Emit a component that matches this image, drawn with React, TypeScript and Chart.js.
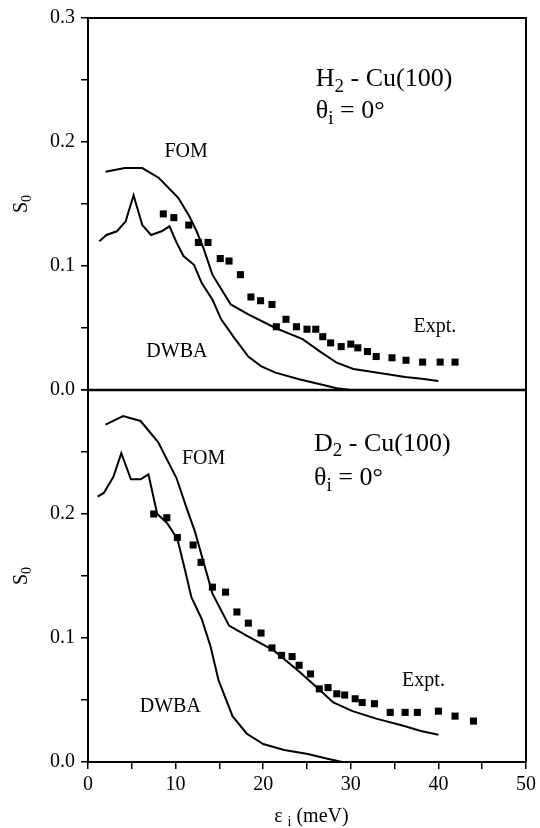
import React, { useEffect, useRef } from "react";
import { Chart, registerables } from "chart.js";

Chart.register(...registerables);

// ---------- data: top panel (H2 - Cu(100)) ----------
const fomTopX = [2.0, 4.2, 6.2, 8.1, 10.3, 11.5, 12.4, 13.2, 14.2, 16.3, 18.3, 21.4, 24.5, 26.5, 28.4, 30.3, 33.1, 36.2, 38.1, 40.0];
const fomTopY = [0.176, 0.179, 0.179, 0.171, 0.155, 0.141, 0.128, 0.114, 0.093, 0.069, 0.061, 0.050, 0.041, 0.031, 0.022, 0.017, 0.014, 0.0105, 0.009, 0.0072];

const dwbaTopX = [1.3, 2.1, 3.3, 4.3, 5.2, 6.2, 7.2, 8.4, 9.3, 10.1, 10.9, 12.1, 13.0, 14.2, 15.2, 16.7, 18.3, 19.8, 21.4, 24.1, 26.5, 28.4, 30.0];
const dwbaTopY = [0.120, 0.125, 0.128, 0.136, 0.157, 0.133, 0.125, 0.128, 0.132, 0.119, 0.108, 0.101, 0.086, 0.073, 0.057, 0.042, 0.027, 0.019, 0.014, 0.0086, 0.0046, 0.0014, 0];

const exptTopX = [8.6, 9.8, 11.5, 12.6, 13.7, 15.1, 16.1, 17.4, 18.6, 19.7, 21.0, 21.5, 22.6, 23.8, 25.0, 26.0, 26.8, 27.7, 28.9, 30.0, 30.8, 31.9, 32.9, 34.7, 36.3, 38.2, 40.2, 41.9];
const exptTopY = [0.142, 0.139, 0.133, 0.119, 0.119, 0.106, 0.104, 0.093, 0.075, 0.072, 0.069, 0.051, 0.057, 0.051, 0.049, 0.049, 0.043, 0.038, 0.035, 0.037, 0.034, 0.031, 0.027, 0.026, 0.024, 0.0225, 0.0225, 0.0225];

// ---------- data: bottom panel (D2 - Cu(100)) ----------
const fomBotX = [2.0, 4.0, 6.0, 8.0, 10.1, 11.2, 12.2, 13.0, 14.2, 16.1, 18.1, 21.2, 24.1, 26.3, 28.0, 30.2, 32.9, 36.1, 38.0, 40.0];
const fomBotY = [0.272, 0.279, 0.275, 0.258, 0.229, 0.206, 0.186, 0.166, 0.136, 0.110, 0.102, 0.090, 0.073, 0.059, 0.048, 0.041, 0.035, 0.029, 0.025, 0.022];

const dwbaBotX = [1.1, 1.8, 2.9, 3.8, 4.9, 6.0, 6.9, 7.9, 9.0, 10.2, 11.0, 11.8, 13.0, 14.0, 14.9, 16.5, 18.1, 20.0, 22.4, 25.1, 27.1, 29.0];
const dwbaBotY = [0.214, 0.217, 0.230, 0.249, 0.228, 0.228, 0.232, 0.200, 0.193, 0.180, 0.157, 0.133, 0.115, 0.093, 0.066, 0.037, 0.023, 0.0145, 0.0097, 0.0065, 0.003, 0];

const exptBotX = [7.5, 9.0, 10.2, 12.0, 12.9, 14.2, 15.7, 17.0, 18.3, 19.75, 21.0, 22.1, 23.3, 24.1, 25.4, 26.4, 27.4, 28.4, 29.3, 30.5, 31.3, 32.7, 34.5, 36.2, 37.6, 40.0, 41.9, 44.0];
const exptBotY = [0.200, 0.197, 0.181, 0.175, 0.161, 0.141, 0.137, 0.121, 0.112, 0.104, 0.092, 0.086, 0.085, 0.078, 0.071, 0.059, 0.060, 0.055, 0.054, 0.051, 0.048, 0.047, 0.040, 0.040, 0.040, 0.041, 0.037, 0.033];

// axis ranges / ticks
const xMin = 0;
const xMax = 50;
const xStep = 5;
const yMin = 0;
const yMax = 0.3;
const yStep = 0.05;

const SERIF = "'Liberation Serif', 'Times New Roman', 'DejaVu Serif', serif";

const pts = (xs: number[], ys: number[]) => xs.map((x, i) => ({ x, y: ys[i] }));
const isTenth = (v: number) => Math.abs(v * 10 - Math.round(v * 10)) < 1e-6;

type Part = { t: string; sub?: boolean };

function drawRich(ctx: CanvasRenderingContext2D, x: number, y: number, parts: Part[], size: number, align: "left" | "center" = "left") {
  const subSize = Math.round(size * 0.72);
  let total = 0;
  for (const p of parts) {
    ctx.font = `${p.sub ? subSize : size}px ${SERIF}`;
    total += ctx.measureText(p.t).width;
  }
  let cx = align === "center" ? x - total / 2 : x;
  ctx.textAlign = "left";
  ctx.textBaseline = "alphabetic";
  for (const p of parts) {
    ctx.font = `${p.sub ? subSize : size}px ${SERIF}`;
    ctx.fillText(p.t, cx, p.sub ? y + size * 0.22 : y);
    cx += ctx.measureText(p.t).width;
  }
}

const annotPlugin = {
  id: "annot",
  afterDraw(chart: any) {
    const ctx: CanvasRenderingContext2D = chart.ctx;
    const { left, right, top, bottom } = chart.chartArea;
    const xs = chart.scales.x;
    const yt = chart.scales.yTop;
    const yb = chart.scales.yBot;
    ctx.save();
    ctx.fillStyle = "#000";
    ctx.strokeStyle = "#000";
    // frame
    ctx.lineWidth = 2;
    ctx.beginPath();
    ctx.moveTo(left, top);
    ctx.lineTo(right, top);
    ctx.lineTo(right, bottom);
    ctx.stroke();
    ctx.lineWidth = 2.5;
    ctx.beginPath();
    const mid = yt.getPixelForValue(0);
    ctx.moveTo(left, mid);
    ctx.lineTo(right, mid);
    ctx.stroke();

    // top panel texts
    drawRich(ctx, xs.getPixelForValue(26.0), yt.getPixelForValue(0.245), [{ t: "H" }, { t: "2", sub: true }, { t: " - Cu(100)" }], 26);
    drawRich(ctx, xs.getPixelForValue(26.0), yt.getPixelForValue(0.219), [{ t: "θ" }, { t: "i", sub: true }, { t: " = 0°" }], 26);
    drawRich(ctx, xs.getPixelForValue(11.2), yt.getPixelForValue(0.188), [{ t: "FOM" }], 20, "center");
    drawRich(ctx, xs.getPixelForValue(10.15), yt.getPixelForValue(0.0265), [{ t: "DWBA" }], 20, "center");
    drawRich(ctx, xs.getPixelForValue(39.6), yt.getPixelForValue(0.0467), [{ t: "Expt." }], 20, "center");

    // bottom panel texts
    drawRich(ctx, xs.getPixelForValue(25.8), yb.getPixelForValue(0.251), [{ t: "D" }, { t: "2", sub: true }, { t: " - Cu(100)" }], 26);
    drawRich(ctx, xs.getPixelForValue(25.8), yb.getPixelForValue(0.223), [{ t: "θ" }, { t: "i", sub: true }, { t: " = 0°" }], 26);
    drawRich(ctx, xs.getPixelForValue(13.2), yb.getPixelForValue(0.2405), [{ t: "FOM" }], 20, "center");
    drawRich(ctx, xs.getPixelForValue(9.4), yb.getPixelForValue(0.040), [{ t: "DWBA" }], 20, "center");
    drawRich(ctx, xs.getPixelForValue(38.3), yb.getPixelForValue(0.061), [{ t: "Expt." }], 20, "center");

    // y titles
    const yTitle = (cy: number) => {
      ctx.save();
      ctx.translate(27, cy);
      ctx.rotate(-Math.PI / 2);
      drawRich(ctx, 0, 0, [{ t: "S" }, { t: "0", sub: true }], 20, "center");
      ctx.restore();
    };
    yTitle((yt.top + yt.bottom) / 2);
    yTitle((yb.top + yb.bottom) / 2);

    // x title
    drawRich(ctx, xs.getPixelForValue(25.5), 822, [{ t: "ε " }, { t: "i", sub: true }, { t: " (meV)" }], 20, "center");
    ctx.restore();
  },
};

const tickFont = { family: SERIF, size: 20 };

function yScale(hideTop: boolean, weight: number) {
  return {
    type: "linear" as const,
    position: "left" as const,
    stack: "panels",
    stackWeight: 1,
    weight,
    min: yMin,
    max: yMax,
    afterFit: (s: any) => {
      s.width = 88;
    },
    ticks: {
      stepSize: yStep,
      autoSkip: false,
      color: "#000",
      font: tickFont,
      padding: 6,
      callback: (v: any) => (isTenth(v) && !(hideTop && v > yMax - 0.01) ? Number(v).toFixed(1) : ""),
    },
    grid: { drawOnChartArea: false, drawTicks: true, tickLength: 7, color: "#000", lineWidth: 1.5 },
    border: { display: true, color: "#000", width: 2 },
  };
}

export default function App() {
  const ref = useRef<HTMLCanvasElement | null>(null);
  useEffect(() => {
    if (!ref.current) return;
    const lineDs = (label: string, xs: number[], ys: number[], axis: string) => ({
      label,
      data: pts(xs, ys),
      yAxisID: axis,
      showLine: true,
      borderColor: "#000",
      borderWidth: 2,
      pointRadius: 0,
      tension: 0,
      fill: false,
    });
    const markDs = (label: string, xs: number[], ys: number[], axis: string) => ({
      label,
      data: pts(xs, ys),
      yAxisID: axis,
      showLine: false,
      pointStyle: "rect",
      pointRadius: 5,
      backgroundColor: "#000",
      borderColor: "#000",
      borderWidth: 0,
    });
    const chart = new Chart(ref.current, {
      type: "scatter",
      data: {
        datasets: [
          lineDs("FOM H2", fomTopX, fomTopY, "yTop"),
          lineDs("DWBA H2", dwbaTopX, dwbaTopY, "yTop"),
          markDs("Expt H2", exptTopX, exptTopY, "yTop"),
          lineDs("FOM D2", fomBotX, fomBotY, "yBot"),
          lineDs("DWBA D2", dwbaBotX, dwbaBotY, "yBot"),
          markDs("Expt D2", exptBotX, exptBotY, "yBot"),
        ] as any,
      },
      options: {
        responsive: false,
        animation: false,
        layout: { padding: { left: 0, right: 11, top: 16, bottom: 0 } },
        plugins: { legend: { display: false }, tooltip: { enabled: false } },
        scales: {
          x: {
            type: "linear",
            min: xMin,
            max: xMax,
            afterFit: (s: any) => {
              s.height = 66;
            },
            ticks: {
              stepSize: xStep,
              autoSkip: false,
              maxRotation: 0,
              color: "#000",
              font: tickFont,
              padding: 4,
              callback: (v: any) => (Number(v) % 10 === 0 ? String(v) : ""),
            },
            grid: { drawOnChartArea: false, drawTicks: true, tickLength: 7, color: "#000", lineWidth: 1.5 },
            border: { display: true, color: "#000", width: 2 },
          },
          yBot: yScale(true, 0),
          yTop: yScale(false, 1),
        } as any,
      },
      plugins: [annotPlugin],
    });
    return () => chart.destroy();
  }, []);
  return (
    <div style={{ position: "absolute", left: 0, top: 0, width: 540, height: 828, background: "#fff" }}>
      <canvas ref={ref} width={540} height={828} style={{ display: "block" }} />
    </div>
  );
}
